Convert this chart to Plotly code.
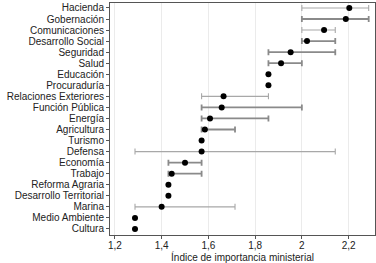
import plotly.graph_objects as go

ministries = ["Hacienda", "Gobernación", "Comunicaciones", "Desarrollo Social", "Seguridad",
              "Salud", "Educación", "Procuraduría", "Relaciones Exteriores", "Función Pública",
              "Energía", "Agricultura", "Turismo", "Defensa", "Economía", "Trabajo",
              "Reforma Agraria", "Desarrollo Territorial", "Marina", "Medio Ambiente", "Cultura"]
index_mean = [2.203, 2.188, 2.095, 2.022, 1.952, 1.911, 1.857, 1.857, 1.665, 1.657,
              1.607, 1.585, 1.571, 1.571, 1.500, 1.443, 1.429, 1.429, 1.400, 1.286, 1.286]
index_low = [2.0, 2.0, 2.0, 2.0, 1.857, 1.857, None, None, 1.571, 1.571,
             1.571, 1.571, None, 1.286, 1.429, 1.429, None, None, 1.286, None, None]
index_high = [2.286, 2.286, 2.143, 2.143, 2.143, 2.0, None, None, 1.857, 2.0,
              1.857, 1.714, None, 2.143, 1.571, 1.571, None, None, 1.714, None, None]
thick_rows = ["Gobernación", "Desarrollo Social", "Seguridad", "Salud", "Función Pública",
              "Energía", "Agricultura", "Economía", "Trabajo"]
x_ticks = [1.2, 1.4, 1.6, 1.8, 2.0, 2.2]
x_tick_labels = ["1,2", "1,4", "1,6", "1,8", "2", "2,2"]

fig = go.Figure()
for name, m, lo, hi in zip(ministries, index_mean, index_low, index_high):
    if lo is None:
        continue
    thick = name in thick_rows
    fig.add_trace(go.Scatter(
        x=[m], y=[name], mode="markers",
        marker=dict(size=1, color="rgba(0,0,0,0)"),
        error_x=dict(type="data", symmetric=False, array=[hi - m], arrayminus=[m - lo],
                     color="#8a8a8a" if thick else "#a8a8a8",
                     thickness=1.8 if thick else 1.1, width=3),
        showlegend=False, hoverinfo="skip"))

fig.add_trace(go.Scatter(x=index_mean, y=ministries, mode="markers",
                         marker=dict(size=6, color="black"), showlegend=False))

fig.update_layout(
    width=376, height=263,
    margin=dict(l=110, r=1, t=3, b=28),
    paper_bgcolor="white", plot_bgcolor="white",
    font=dict(family="Liberation Sans, Arial, sans-serif", size=10, color="#222"),
    xaxis=dict(range=[1.179, 2.313], tickvals=x_ticks, ticktext=x_tick_labels,
               showgrid=True, gridcolor="#ebebeb", gridwidth=1, zeroline=False,
               showline=True, linecolor="#555", linewidth=1, mirror=True,
               ticks="outside", ticklen=3, tickcolor="#555", automargin=False,
               ticklabelstandoff=-2,
               title=dict(text="Índice de importancia ministerial", font=dict(size=10), standoff=1),
               tickfont=dict(size=10)),
    yaxis=dict(categoryorder="array", categoryarray=ministries, range=[20.55, -0.45],
               tickmode="array", tickvals=ministries, ticktext=ministries,
               showgrid=False, zeroline=False, automargin=False,
               showline=True, linecolor="#555", linewidth=1, mirror=True,
               ticks="outside", ticklen=3, tickcolor="#555", tickfont=dict(size=10)),
)

fig.write_html("out.html", config={"displayModeBar": False},
               post_script="document.body.style.margin='0';document.body.style.overflow='hidden';")
